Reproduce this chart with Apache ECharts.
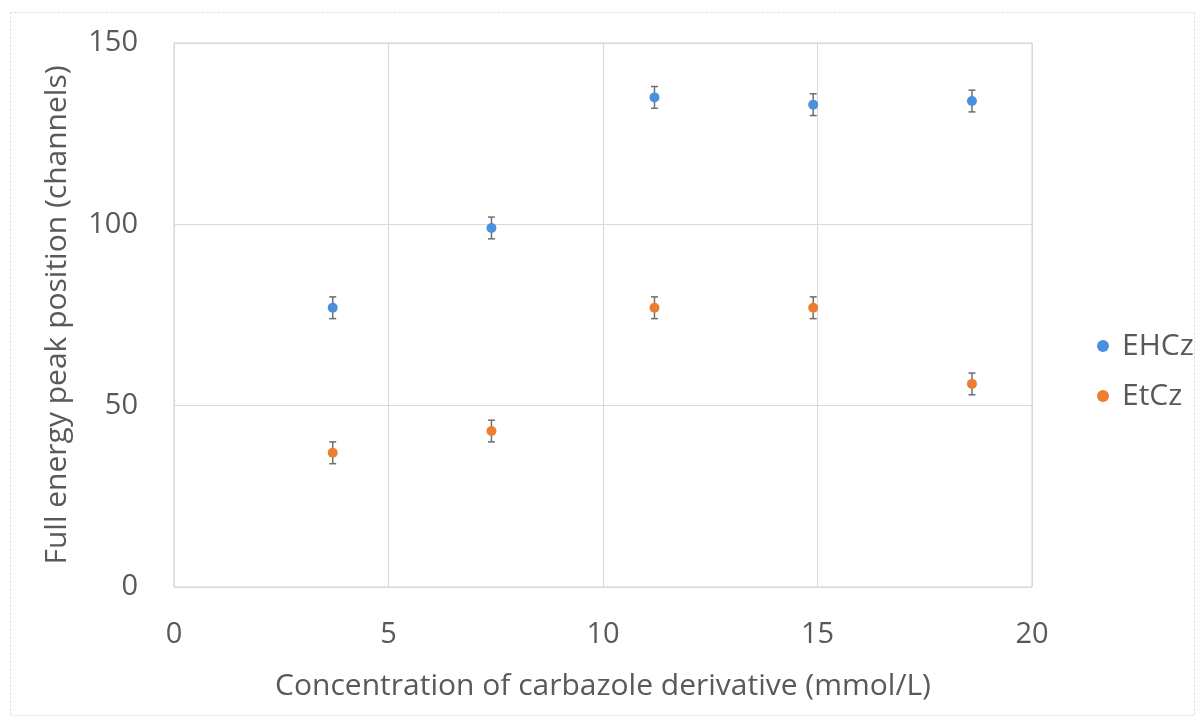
<!DOCTYPE html>
<html><head><meta charset="utf-8">
<script src="https://cdn.jsdelivr.net/npm/echarts@6/dist/echarts.min.js"></script>
<style>html,body{margin:0;padding:0;background:#fff}#c{width:1200px;height:722px}</style>
</head><body><div id="c"></div>
<script>
const concentration = [3.7, 7.4, 11.2, 14.9, 18.6];
const ehczValues = [77, 99, 135, 133, 134];
const etczValues = [37, 43, 77, 77, 56];
const ehczErr = [3, 3, 3, 3, 3];
const etczErr = [3, 3, 3, 3, 3];
const xTicks = [0, 5, 10, 15, 20];
const yTicks = [0, 50, 100, 150];

const FONT = '"Open Sans", "Liberation Sans", sans-serif';
const chart = echarts.init(document.getElementById('c'));

function errData(vals, errs) {
  return concentration.map((x, i) => [x, vals[i] - errs[i], vals[i] + errs[i]]);
}
function errRender(params, api) {
  const x = api.value(0);
  const lo = api.coord([x, api.value(1)]);
  const hi = api.coord([x, api.value(2)]);
  const w = 3.5;
  const st = {stroke: '#6f6f6f', lineWidth: 1.5};
  return {type: 'group', children: [
    {type: 'line', shape: {x1: lo[0], y1: lo[1], x2: hi[0], y2: hi[1]}, style: st},
    {type: 'line', shape: {x1: lo[0]-w, y1: lo[1], x2: lo[0]+w, y2: lo[1]}, style: st},
    {type: 'line', shape: {x1: hi[0]-w, y1: hi[1], x2: hi[0]+w, y2: hi[1]}, style: st}
  ]};
}

chart.setOption({
  animation: false,
  graphic: [{type: 'rect', left: 8, top: 10, shape: {width: 1184, height: 703},
    style: {fill: 'none', stroke: '#d9d9d9', lineWidth: 1, lineDash: [2, 2]}}],
  grid: {left: 174, top: 43, width: 858, height: 544, show: true, borderColor: '#d0d0d0', borderWidth: 1},
  xAxis: {type: 'value', min: xTicks[0], max: xTicks[xTicks.length - 1], interval: xTicks[1] - xTicks[0],
    name: 'Concentration of carbazole derivative (mmol/L)', nameLocation: 'middle', nameGap: 84,
    nameTextStyle: {fontFamily: FONT, fontSize: 30, color: '#595959'},
    axisLine: {show: false}, axisTick: {show: false},
    axisLabel: {fontFamily: FONT, fontSize: 29, color: '#595959', margin: 33},
    splitLine: {lineStyle: {color: '#d9d9d9', width: 1}}},
  yAxis: {type: 'value', min: yTicks[0], max: yTicks[yTicks.length - 1], interval: yTicks[1] - yTicks[0],
    name: 'Full energy peak position (channels)', nameLocation: 'middle', nameGap: 102,
    nameTextStyle: {fontFamily: FONT, fontSize: 30, color: '#595959'},
    axisLine: {show: false}, axisTick: {show: false},
    axisLabel: {fontFamily: FONT, fontSize: 29, color: '#595959', margin: 36},
    splitLine: {lineStyle: {color: '#d9d9d9', width: 1}}},
  legend: {orient: 'vertical', left: 1092, top: 326, itemGap: 20, itemWidth: 12, itemHeight: 12,
    icon: 'circle', textStyle: {fontFamily: FONT, fontSize: 30, color: '#595959', padding: [0, 0, 0, 8]},
    data: ['EHCz', 'EtCz']},
  series: [
    {type: 'custom', name: 'errEH', renderItem: errRender, data: errData(ehczValues, ehczErr), z: 1, silent: true},
    {type: 'custom', name: 'errEt', renderItem: errRender, data: errData(etczValues, etczErr), z: 1, silent: true},
    {type: 'scatter', name: 'EHCz', symbolSize: 10, itemStyle: {color: '#4a90dc', opacity: 1},
     data: concentration.map((x, i) => [x, ehczValues[i]]), z: 3},
    {type: 'scatter', name: 'EtCz', symbolSize: 10, itemStyle: {color: '#ed7d31', opacity: 1},
     data: concentration.map((x, i) => [x, etczValues[i]]), z: 3}
  ]
});
</script></body></html>
